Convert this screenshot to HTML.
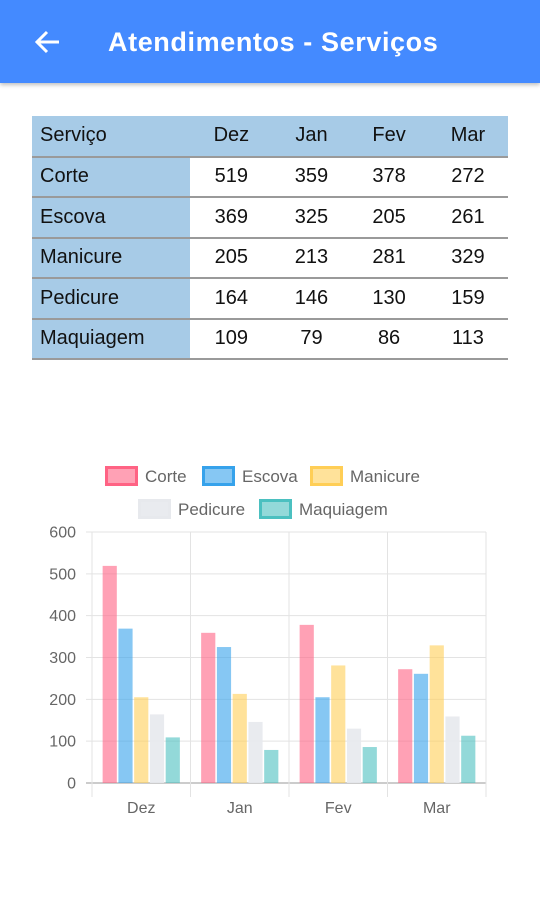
<!DOCTYPE html>
<html><head><meta charset="utf-8">
<style>
*{margin:0;padding:0;box-sizing:border-box}
body{width:540px;height:922px;background:#fff;font-family:"Liberation Sans",sans-serif;position:relative;overflow:hidden}
#bar{position:absolute;left:0;top:0;width:540px;height:83px;background:#448aff;box-shadow:0 2px 4px rgba(0,0,0,0.25)}
#title{position:absolute;left:108px;top:27px;color:#fff;font-weight:bold;font-size:27px;letter-spacing:0.6px}
#back{position:absolute;left:33px;top:27px}
table{position:absolute;left:32px;top:116px;width:476px;border-collapse:collapse;font-size:20px;color:#111}
td,th{height:40.5px;font-weight:normal;text-align:center}
th{background:#a7cbe7}
tr td{border-top:2px solid #9a9a9a}
tr:last-child td{border-bottom:2px solid #9a9a9a}
td.n,th.n{text-align:left;padding-left:8px;background:#a7cbe7;width:158px}
</style></head><body>
<div id="bar">
<svg id="back" width="30" height="30" viewBox="0 0 30 30"><path d="M26 15H5M14 5L4 15L14 25" stroke="#fff" stroke-width="3" fill="none"/></svg>
<div id="title">Atendimentos - Serviços</div>
</div>
<table>
<tr><th class="n">Serviço</th><th>Dez</th><th>Jan</th><th>Fev</th><th>Mar</th></tr>
<tr><td class="n">Corte</td><td>519</td><td>359</td><td>378</td><td>272</td></tr>
<tr><td class="n">Escova</td><td>369</td><td>325</td><td>205</td><td>261</td></tr>
<tr><td class="n">Manicure</td><td>205</td><td>213</td><td>281</td><td>329</td></tr>
<tr><td class="n">Pedicure</td><td>164</td><td>146</td><td>130</td><td>159</td></tr>
<tr><td class="n">Maquiagem</td><td>109</td><td>79</td><td>86</td><td>113</td></tr>
</table>
<svg id="chart" width="540" height="922" style="position:absolute;left:0;top:0"></svg>
<script>
const categories=["Dez","Jan","Fev","Mar"];
const seriesNames=["Corte","Escova","Manicure","Pedicure","Maquiagem"];
const corte=[519,359,378,272];
const escova=[369,325,205,261];
const manicure=[205,213,281,329];
const pedicure=[164,146,130,159];
const maquiagem=[109,79,86,113];
const yTicks=[0,100,200,300,400,500,600];
const series=[corte,escova,manicure,pedicure,maquiagem];
const fills=["rgba(255,99,132,0.6)","rgba(54,162,235,0.6)","rgba(255,206,86,0.6)","rgba(231,233,237,0.9)","rgba(75,192,192,0.6)"];
const strokes=["#ff6384","#36a2eb","#ffce56","#e7e9ed","#4bc0c0"];
const svg=document.getElementById('chart');
const NS="http://www.w3.org/2000/svg";
const X0=92,X1=486,Y0=783,Y1=532,YMAX=600;
const y=v=>Y0-(v/YMAX)*(Y0-Y1);
const cw=(X1-X0)/categories.length;
function mk(t,a){const e=document.createElementNS(NS,t);for(const k in a)e.setAttribute(k,a[k]);svg.appendChild(e);return e;}
yTicks.forEach(t=>{
  const l=mk('line',{x1:X0-6,x2:X1,y1:y(t),y2:y(t),stroke:t===0?'#999':'#e3e3e3','stroke-width':1});
  
  
  const tx=mk('text',{x:X0-16,y:y(t)+5.5,'text-anchor':'end','font-size':16,fill:'#666','font-family':'Liberation Sans, sans-serif'});
  tx.textContent=t;
  
  
});
for(let i=0;i<=categories.length;i++){
  const l=mk('line',{x1:X0+i*cw,x2:X0+i*cw,y1:Y1,y2:Y0+14,stroke:'#e3e3e3','stroke-width':1});
  
  
}
categories.forEach((c,i)=>{
  const tx=mk('text',{x:X0+cw*(i+0.5),y:Y0+30,'text-anchor':'middle','font-size':16,fill:'#666','font-family':'Liberation Sans, sans-serif'});
  tx.textContent=c;
  
  
  const gw=cw*0.8,slot=gw/series.length,bw=slot*0.9;
  series.forEach((s,j)=>{
    const bx=X0+cw*i+cw*0.1+slot*j+slot*0.05;
    const r=mk('rect',{x:bx,y:y(s[i]),width:bw,height:Y0-y(s[i]),fill:fills[j]});
    
    
  });
});
const legendPos=[[105,466],[202,466],[310,466],[138,499],[259,499]];
seriesNames.forEach((n,j)=>{
  const [lx,ly]=legendPos[j];
  const r=mk('rect',{x:lx+1.5,y:ly+1.5,width:30,height:17,fill:fills[j],stroke:strokes[j],'stroke-width':3});
  
  
  const t=mk('text',{x:lx+40,y:ly+16,'font-size':17,fill:'#666','font-family':'Liberation Sans, sans-serif'});
  t.textContent=n;
  
  
});
</script>
</body></html>
